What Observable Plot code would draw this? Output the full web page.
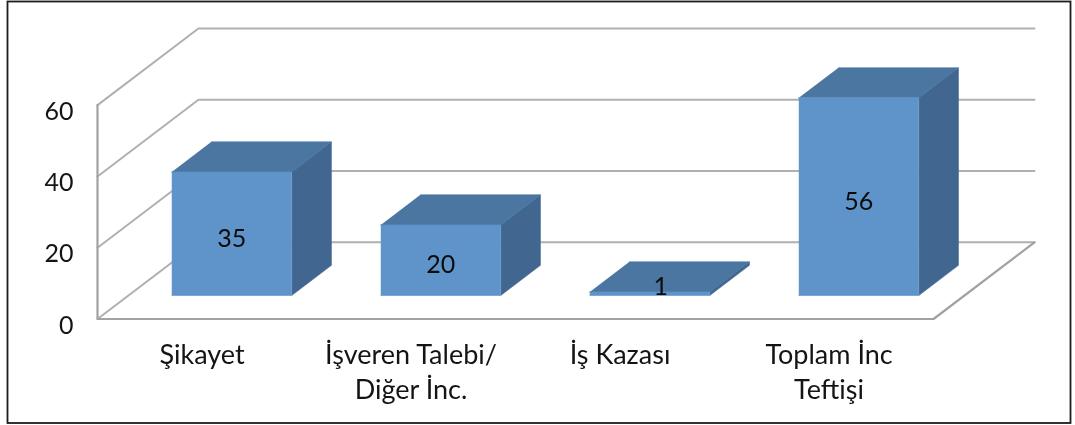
<!DOCTYPE html>
<html>
<head>
<meta charset="utf-8">
<script src="https://cdn.jsdelivr.net/npm/d3@7"></script>
<script src="https://cdn.jsdelivr.net/npm/@observablehq/plot@0.6"></script>
<style>
  html, body { margin: 0; padding: 0; background: #fff; }
  svg { display: block; filter: blur(0.6px); }
</style>
</head>
<body>
<div id="chart"></div>
<script>
const categories = ["Şikayet", "İşveren Talebi/\nDiğer İnc.", "İş Kazası", "Toplam İnc\nTeftişi"];
const values = [35, 20, 1, 56];
const yTicks = [0, 20, 40, 60];

// Oblique projection: depth z (0 front, 1 back) shifts a point in data units
const depthX = 0.483, depthY = 21.5;
const barWidth = 0.574, barNear = 0.307, barFar = 0.70, barShift = -0.006, barScale = 0.99;
const project = (pos, value, z) => ({x: pos + z * depthX, y: value + z * depthY});
const nCat = categories.length;
const yMax = yTicks[yTicks.length - 1];

const colors = {front: "#5e94c9", top: "#4b76a1", side: "#41668f"};

// Walls and floor
const gridLines = yTicks.map((v) => ({
  key: `g${v}`,
  pts: [project(0, v, 0), project(0, v, 1), project(nCat, v, 1)]
}));
const wallPoints = gridLines.flatMap((g) => g.pts.map((p) => ({...p, key: g.key})));
const axisFrame = [project(0, yMax, 0), project(0, 0, 0), project(nCat, 0, 0), project(nCat, 0, 1)];

// Bars as faces
const faces = values.flatMap((value, i) => {
  const v = value * barScale;
  const c = i + 0.5 + barShift, l = c - barWidth / 2, r = c + barWidth / 2;
  const face = (name, corners) =>
    corners.map(([p, val, z]) => ({...project(p, val, z), key: `${i}-${name}`, face: name}));
  return [
    ...face("side", [[r, 0, barNear], [r, 0, barFar], [r, v, barFar], [r, v, barNear]]),
    ...face("top", [[l, v, barNear], [r, v, barNear], [r, v, barFar], [l, v, barFar]]),
    ...face("front", [[l, 0, barNear], [r, 0, barNear], [r, v, barNear], [l, v, barNear]])
  ];
});

const labels = values.map((v, i) => ({...project(i + 0.5 + barShift, v * barScale / 2, barNear), v}));

const chart = Plot.plot({
  width: 1075,
  height: 425,
  marginLeft: 97,
  marginRight: 41,
  marginTop: 28,
  marginBottom: 106.5,
  style: {background: "#fff", fontFamily: "Lato, sans-serif"},
  x: {domain: [0, nCat + depthX], axis: null},
  y: {domain: [0, yMax + depthY], axis: null},
  marks: [
    Plot.frame({stroke: "#1c1c1c", strokeWidth: 1.8, insetLeft: -90, insetRight: -36, insetTop: -27, insetBottom: -104}),
    Plot.line(wallPoints, {x: "x", y: "y", z: "key", stroke: "#b0b0b0", strokeWidth: 2}),
    Plot.line(axisFrame, {x: "x", y: "y", stroke: "#a2a2a2", strokeWidth: 2.2}),
    Plot.line(faces, {
      x: "x", y: "y", z: "key",
      fill: (d) => colors[d.face],
      stroke: (d) => colors[d.face],
      strokeWidth: 0.6
    }),
    Plot.text(labels.filter((d) => d.v >= 5), {
      x: "x", y: "y", text: (d) => String(d.v),
      fontSize: 25, fill: "#0c0c0c", dy: 5
    }),
    Plot.text(labels.filter((d) => d.v < 5), {
      x: "x", y: "y", text: (d) => String(d.v),
      fontSize: 25, fill: "#0c0c0c", dx: 11, dy: -7
    }),
    Plot.axisY(yTicks, {
      anchor: "left", tickSize: 0, tickPadding: 24, dy: 6.5,
      fontSize: 25, label: null, fill: "#141414"
    }),
    Plot.axisX(categories.map((_, i) => i + 0.5), {
      anchor: "bottom", tickSize: 0, tickPadding: 20, lineAnchor: "top", lineHeight: 1.3,
      tickFormat: (d) => categories[Math.floor(d)],
      fontSize: 27, label: null, fill: "#141414"
    })
  ]
});
document.getElementById("chart").append(chart);
</script>
</body>
</html>
